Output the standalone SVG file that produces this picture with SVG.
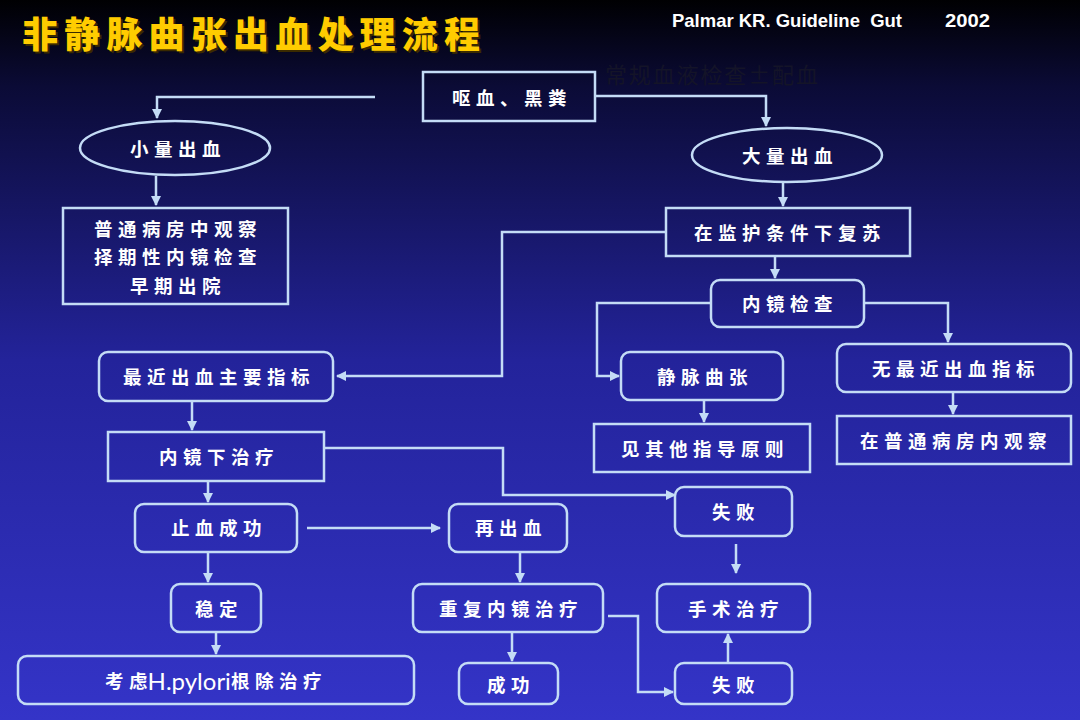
<svg xmlns="http://www.w3.org/2000/svg" width="1080" height="720" viewBox="0 0 1080 720">
<defs>
<linearGradient id="bg" x1="0" y1="0" x2="0" y2="1">
<stop offset="0" stop-color="#000002"/>
<stop offset="0.12" stop-color="#0b0b36"/>
<stop offset="0.5" stop-color="#23239a"/>
<stop offset="1" stop-color="#3434c8"/>
</linearGradient>
<marker id="ah" viewBox="0 0 10 10" refX="9" refY="5" markerWidth="10" markerHeight="10" markerUnits="userSpaceOnUse" orient="auto">
<path d="M0,0 L10,5 L0,10 Z" fill="#c4dcf6"/>
</marker>
</defs>
<style>
.box{fill:none;stroke:#c4dcf6;stroke-width:2.5}
.lbl{font-family:"Noto Sans CJK SC","Noto Sans",sans-serif;font-size:18.5px;font-weight:700;fill:#ffffff;text-anchor:middle;dominant-baseline:central;letter-spacing:5.5px}
.lat{font-family:"Lato","Liberation Sans",sans-serif;font-weight:400;letter-spacing:0;font-size:24px}
.con{fill:none;stroke:#c4dcf6;stroke-width:2.5;marker-end:url(#ah)}
</style>
<rect width="1080" height="720" fill="url(#bg)"/>

<g id="title">
<text x="24" y="50" font-family="Noto Sans CJK SC, sans-serif" font-size="36" font-weight="900" fill="#3a2a00" letter-spacing="6.2">非静脉曲张出血处理流程</text>
<text x="22" y="48" font-family="Noto Sans CJK SC, sans-serif" font-size="36" font-weight="900" fill="#ffcc00" letter-spacing="6.2">非静脉曲张出血处理流程</text>
</g>
<g id="citation">
<text x="672" y="27" font-family="Liberation Sans, Arial, sans-serif" font-size="19" font-weight="700" fill="#ffffff" textLength="230" lengthAdjust="spacingAndGlyphs" xml:space="preserve">Palmar KR. Guideline  Gut</text>
<text x="945" y="27" font-family="Liberation Sans, Arial, sans-serif" font-size="19" font-weight="700" fill="#ffffff" textLength="45" lengthAdjust="spacingAndGlyphs">2002</text>
</g>
<g id="note">
<text x="605" y="83" font-family="Noto Sans CJK SC, sans-serif" font-size="22" fill="#141428" textLength="213">常规血液检查±配血</text>
</g>

<g id="connectors">
<path class="con" d="M375,97 H157 V118"/>
<path class="con" d="M595,96 H766 V126"/>
<path class="con" d="M156,176 V205"/>
<path class="con" d="M783,182 V206"/>
<path class="con" d="M775,256 V278"/>
<path class="con" d="M666,232 H502 V376 H337"/>
<path class="con" d="M711,303 H597 V376 H619"/>
<path class="con" d="M864,303 H948 V342"/>
<path class="con" d="M704,400 V422"/>
<path class="con" d="M953,392 V414"/>
<path class="con" d="M192,402 V430"/>
<path class="con" d="M324,448 H503 V495 H675"/>
<path class="con" d="M208,481 V502"/>
<path class="con" d="M307,528 H440"/>
<path class="con" d="M208,552 V582"/>
<path class="con" d="M216,632 V654"/>
<path class="con" d="M520,552 V582"/>
<path class="con" d="M736,544 V573"/>
<path class="con" d="M512,632 V661"/>
<path class="con" d="M608,616 H638 V692 H673"/>
<path class="con" d="M728,663 V634"/>
</g>

<g id="n-outu">
<rect class="box" x="423" y="72" width="172" height="49"/>
<text class="lbl" x="512" y="97">呕血、黑粪</text>
</g>
<g id="n-small">
<ellipse class="box" cx="175" cy="148" rx="95" ry="27"/>
<text class="lbl" x="178" y="148">小量出血</text>
</g>
<g id="n-large">
<ellipse class="box" cx="787" cy="155" rx="95" ry="27"/>
<text class="lbl" x="790" y="155">大量出血</text>
</g>
<g id="n-ward">
<rect class="box" x="63" y="208" width="225" height="96"/>
<text class="lbl" x="178" y="228">普通病房中观察</text>
<text class="lbl" x="178" y="256">择期性内镜检查</text>
<text class="lbl" x="178" y="285">早期出院</text>
</g>
<g id="n-resus">
<rect class="box" x="666" y="208" width="244" height="48"/>
<text class="lbl" x="790" y="232">在监护条件下复苏</text>
</g>
<g id="n-endo">
<rect class="box" x="711" y="280" width="153" height="47" rx="9"/>
<text class="lbl" x="790" y="303">内镜检查</text>
</g>
<g id="n-varix">
<rect class="box" x="621" y="352" width="162" height="48" rx="9"/>
<text class="lbl" x="705" y="376">静脉曲张</text>
</g>
<g id="n-other">
<rect class="box" x="594" y="424" width="216" height="48"/>
<text class="lbl" x="705" y="448">见其他指导原则</text>
</g>
<g id="n-nosign">
<rect class="box" x="837" y="344" width="234" height="48" rx="9"/>
<text class="lbl" x="956" y="368">无最近出血指标</text>
</g>
<g id="n-obs">
<rect class="box" x="837" y="416" width="234" height="48"/>
<text class="lbl" x="956" y="440">在普通病房内观察</text>
</g>
<g id="n-sign">
<rect class="box" x="99" y="352" width="234" height="49" rx="9"/>
<text class="lbl" x="219" y="376">最近出血主要指标</text>
</g>
<g id="n-endotx">
<rect class="box" x="108" y="432" width="216" height="49"/>
<text class="lbl" x="219" y="456">内镜下治疗</text>
</g>
<g id="n-stop">
<rect class="box" x="135" y="504" width="162" height="48" rx="9"/>
<text class="lbl" x="219" y="527">止血成功</text>
</g>
<g id="n-rebleed">
<rect class="box" x="449" y="504" width="118" height="48" rx="9"/>
<text class="lbl" x="511" y="527">再出血</text>
</g>
<g id="n-fail1">
<rect class="box" x="675" y="487" width="117" height="49" rx="9"/>
<text class="lbl" x="736" y="511">失败</text>
</g>
<g id="n-stable">
<rect class="box" x="171" y="584" width="90" height="48" rx="9"/>
<text class="lbl" x="219" y="608">稳定</text>
</g>
<g id="n-repeat">
<rect class="box" x="413" y="584" width="190" height="48" rx="9"/>
<text class="lbl" x="511" y="608">重复内镜治疗</text>
</g>
<g id="n-surgery">
<rect class="box" x="657" y="584" width="153" height="48" rx="9"/>
<text class="lbl" x="736" y="608">手术治疗</text>
</g>
<g id="n-hp">
<rect class="box" x="18" y="656" width="396" height="48" rx="9"/>
<text class="lbl" x="216" y="680">考<tspan style="letter-spacing:0">虑</tspan><tspan class="lat">H.pylori</tspan>根除治疗</text>
</g>
<g id="n-success">
<rect class="box" x="459" y="663" width="99" height="41" rx="9"/>
<text class="lbl" x="511" y="684">成功</text>
</g>
<g id="n-fail2">
<rect class="box" x="675" y="663" width="117" height="41" rx="9"/>
<text class="lbl" x="736" y="684">失败</text>
</g>
</svg>
